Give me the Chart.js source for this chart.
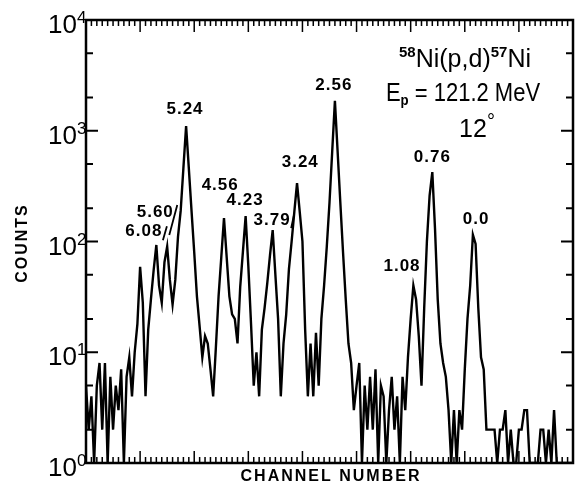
<!DOCTYPE html>
<html>
<head>
<meta charset="utf-8">
<script src="https://cdn.jsdelivr.net/npm/chart.js@4.4.1/dist/chart.umd.min.js"></script>
<style>
  html, body { margin: 0; padding: 0; background: #fff; }
</style>
</head>
<body>
<canvas id="spectrum" width="576" height="489"></canvas>
<script>
// channel grid, one bin per 5 channels
const channels = Array.from({ length: 181 }, (_, i) => i * 5);

// counts per bin (log scale)
const counts = [
    5, 2, 4, 1, 5, 8, 2, 8, 1, 6,
    2, 5, 3, 7, 1, 6, 9, 4, 10, 18,
    59, 28, 4, 16, 30, 55, 93, 40, 28, 65,
    90, 45, 27, 45, 110, 190, 460, 1100, 460, 190,
    80, 32, 17, 9, 14, 12, 7, 4, 11, 32,
    72, 163, 72, 32, 22, 20, 12, 39, 81, 170,
    60, 18, 5, 10, 4, 16, 25, 42, 75, 127,
    50, 20, 4, 12, 22, 56, 100, 185, 337, 185,
    100, 16, 4, 12, 4, 15, 5, 20, 40, 90,
    225, 650, 1860, 650, 225, 80, 30, 12, 8, 3,
    5, 8, 1, 5, 2, 6, 2, 7, 1, 5,
    4, 1, 3, 6, 2, 4, 1, 6, 3, 9,
    20, 40, 30, 14, 5, 25, 100, 260, 424, 130,
    30, 12, 8, 6, 3, 1, 3, 1, 3, 2,
    7, 20, 40, 115, 95, 25, 9, 7, 2, 2,
    2, 2, 1, 2, 2, 3, 1, 2, 1, 1,
    2, 2, 3, 3, 1, 1, 1, 1, 2, 2,
    1, 2, 1, 3, 1, 1, 1, 1, 1, 1,
    1
];

// excitation energies (MeV) marked on the peaks, and where the labels sit (channel, counts)
const peakNames = ['6.08', '5.60', '5.24', '4.56', '4.23', '3.79', '3.24', '2.56', '1.08', '0.76', '0.0'];
const labelChannels = [107, 128, 183, 248, 294, 344, 396, 458, 584, 640, 721];
const labelCounts = [124, 185, 1570, 323, 237, 156, 522, 2590, 60, 580, 160];

const decades = [1, 10, 100, 1000, 10000];
const exponents = ['0', '1', '2', '3', '4'];

function drawRuns(ctx, runs, cx, baseline, squeeze) {
    // measure first so the whole line can be centred
    let total = 0;
    runs.forEach(r => { ctx.font = r.font; total += ctx.measureText(r.t).width; });
    ctx.save();
    ctx.translate(cx, baseline);
    ctx.scale(squeeze, 1);
    let px = -total / 2;
    runs.forEach(r => {
        ctx.font = r.font;
        ctx.fillText(r.t, px, r.dy || 0);
        px += ctx.measureText(r.t).width;
    });
    ctx.restore();
}

const frame = {
    id: 'frame',
    afterDatasetsDraw(chart) {
        const { ctx, chartArea: a, scales: { x, y } } = chart;
        ctx.save();
        ctx.strokeStyle = '#000';
        ctx.fillStyle = '#000';

        ctx.lineWidth = 2.5;
        ctx.strokeRect(a.left, a.top, a.right - a.left, a.bottom - a.top);

        // channel ticks along top and bottom
        ctx.lineWidth = 1.5;
        ctx.beginPath();
        for (let ch = 0; ch <= 900; ch += 10) {
            const px = x.getPixelForValue(ch);
            const len = ch % 100 === 0 ? 12 : 6;
            ctx.moveTo(px, a.top); ctx.lineTo(px, a.top + len);
            ctx.moveTo(px, a.bottom); ctx.lineTo(px, a.bottom - len);
        }
        ctx.stroke();

        // count ticks left and right, 1-2-5 per decade
        ctx.lineWidth = 2;
        ctx.beginPath();
        decades.forEach(d => {
            [1, 2, 5].forEach(m => {
                const v = d * m;
                if (v > 10000) return;
                const py = y.getPixelForValue(v);
                const len = m === 1 ? 12 : 7;
                ctx.moveTo(a.left, py); ctx.lineTo(a.left + len, py);
                ctx.moveTo(a.right, py); ctx.lineTo(a.right - len, py);
            });
        });
        ctx.stroke();

        // decade labels 10^n
        decades.forEach((d, i) => {
            const py = y.getPixelForValue(d);
            ctx.font = '26px "Liberation Sans", Arial, sans-serif';
            ctx.textAlign = 'right';
            ctx.textBaseline = 'alphabetic';
            ctx.fillText('10', a.left - 9, py + 13);
            ctx.font = '17px "Liberation Sans", Arial, sans-serif';
            ctx.textAlign = 'left';
            ctx.fillText(exponents[i], a.left - 9, py + 3);
        });

        // peak labels
        ctx.font = 'bold 17px "Liberation Sans", Arial, sans-serif';
        ctx.letterSpacing = '1px';
        ctx.textAlign = 'center';
        ctx.textBaseline = 'middle';
        peakNames.forEach((name, i) => {
            ctx.fillText(name, x.getPixelForValue(labelChannels[i]), y.getPixelForValue(labelCounts[i]));
        });
        // short leader strokes after some labels
        const leaders = { '6.08': [23, -5, 19, 9], '5.60': [22, -7, 14, 23], '3.79': [22, -6, 19, 8] };
        ctx.lineWidth = 1.8;
        ctx.beginPath();
        peakNames.forEach((name, i) => {
            const l = leaders[name];
            if (!l) return;
            const cx = x.getPixelForValue(labelChannels[i]);
            const cy = y.getPixelForValue(labelCounts[i]);
            ctx.moveTo(cx + l[0], cy + l[1]);
            ctx.lineTo(cx + l[2], cy + l[3]);
        });
        ctx.stroke();

        // reaction info
        ctx.letterSpacing = '0px';
        ctx.textAlign = 'left';
        ctx.textBaseline = 'alphabetic';
        const big = '25px "Liberation Sans", Arial, sans-serif';
        const small = 'bold 15px "Liberation Sans", Arial, sans-serif';
        drawRuns(ctx, [
            { t: '58', font: small, dy: -10 },
            { t: 'Ni(p,d)', font: big },
            { t: '57', font: small, dy: -10 },
            { t: 'Ni', font: big }
        ], a.right - 108, a.top + 47, 1);
        drawRuns(ctx, [
            { t: 'E', font: big },
            { t: 'p', font: small, dy: 4 },
            { t: ' = 121.2 MeV', font: big }
        ], a.right - 110, a.top + 81, 0.88);
        drawRuns(ctx, [
            { t: '12', font: big },
            { t: '°', font: '20px "Liberation Sans", Arial, sans-serif', dy: -9 }
        ], a.right - 96, a.top + 117, 1);

        // axis titles
        ctx.font = 'bold 16px "Liberation Sans", Arial, sans-serif';
        ctx.letterSpacing = '2px';
        ctx.textAlign = 'center';
        ctx.textBaseline = 'middle';
        ctx.fillText('CHANNEL NUMBER', 331, a.bottom + 14);
        ctx.translate(23, 243);
        ctx.rotate(-Math.PI / 2);
        ctx.fillText('COUNTS', 0, 0);
        ctx.restore();
    }
};

const ctx = document.getElementById('spectrum').getContext('2d');
const chart = new Chart(ctx, {
    type: 'line',
    data: {
        datasets: [{
            data: channels.map((c, i) => ({ x: c, y: counts[i] })),
            borderColor: '#000',
            borderWidth: 2.4,
            pointRadius: 0,
            tension: 0,
            fill: false
        }]
    },
    options: {
        responsive: false,
        animation: false,
        devicePixelRatio: 1,
        layout: { padding: { left: 86, right: 3, top: 20, bottom: 26 } },
        plugins: { legend: { display: false }, tooltip: { enabled: false } },
        scales: {
            x: { type: 'linear', min: 0, max: 900, display: false },
            y: { type: 'logarithmic', min: 1, max: 10000, display: false }
        }
    },
    plugins: [frame]
});
</script>
</body>
</html>
